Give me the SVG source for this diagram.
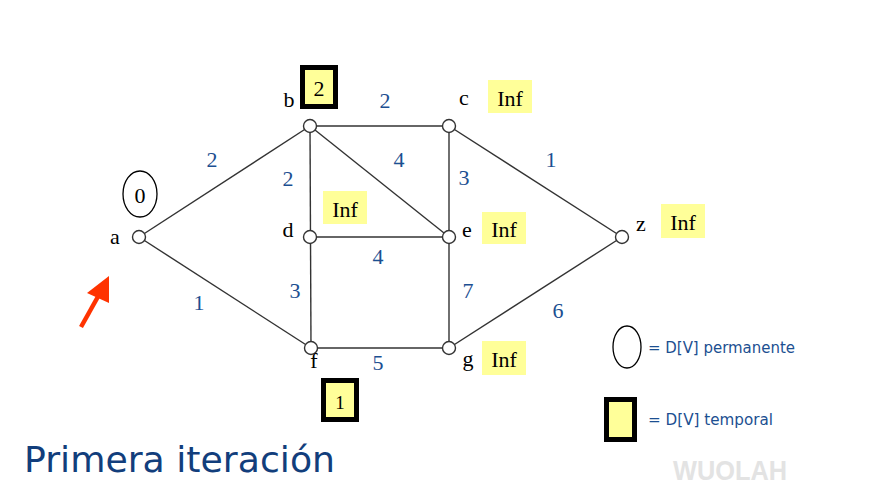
<svg xmlns="http://www.w3.org/2000/svg" width="883" height="503" viewBox="0 0 883 503">
<style>
.edge{stroke:#333;stroke-width:1.4;fill:none}
.node{fill:#fff;stroke:#333;stroke-width:1.4}
.w{font-family:"Liberation Serif","Times New Roman",serif;font-size:22px;fill:#1C4F91;text-anchor:middle}
.lbl{font-family:"Liberation Serif","Times New Roman",serif;font-size:22px;fill:#000;text-anchor:middle}
.inf{fill:#FFFF99}
.tmp{fill:#FFFF99;stroke:#000;stroke-width:5}
.leg{font-family:"Comic Sans MS","DejaVu Sans",sans-serif;font-size:15px;fill:#1C4F91}
</style>
<rect width="883" height="503" fill="#fff"/>
<g id="connectors">
<line class="edge" x1="139" y1="237" x2="310" y2="126"/>
<line class="edge" x1="139" y1="237" x2="311" y2="348"/>
<line class="edge" x1="310" y1="126" x2="449" y2="126"/>
<line class="edge" x1="310" y1="126" x2="311" y2="348"/>
<line class="edge" x1="310" y1="126" x2="449" y2="237"/>
<line class="edge" x1="449" y1="126" x2="449" y2="348"/>
<line class="edge" x1="310" y1="237" x2="449" y2="237"/>
<line class="edge" x1="449" y1="126" x2="622" y2="237"/>
<line class="edge" x1="622" y1="237" x2="449" y2="348"/>
<line class="edge" x1="311" y1="348" x2="449" y2="348"/>
<text class="w" x="212" y="167">2</text>
<text class="w" x="288" y="186">2</text>
<text class="w" x="385" y="108">2</text>
<text class="w" x="399" y="167">4</text>
<text class="w" x="464" y="185">3</text>
<text class="w" x="551" y="167">1</text>
<text class="w" x="378" y="264">4</text>
<text class="w" x="295" y="298">3</text>
<text class="w" x="199" y="309.5">1</text>
<text class="w" x="378" y="369.5">5</text>
<text class="w" x="468" y="298">7</text>
<text class="w" x="558" y="318">6</text>
</g>
<g id="node-a">
<circle class="node" cx="139" cy="237" r="6.5"/>
<text class="lbl" x="115" y="244">a</text>
<ellipse cx="140" cy="194" rx="17" ry="23" fill="#fff" stroke="#000" stroke-width="1.3"/>
<text class="lbl" x="140" y="203">0</text>
</g>
<g id="node-b">
<circle class="node" cx="310" cy="126" r="6.5"/>
<text class="lbl" x="289" y="107">b</text>
<rect class="tmp" x="302.5" y="67.5" width="33" height="39"/>
<text class="lbl" x="319" y="96">2</text>
</g>
<g id="node-c">
<circle class="node" cx="449" cy="126" r="6.5"/>
<text class="lbl" x="464" y="105">c</text>
<rect class="inf" x="488" y="80" width="44" height="33"/>
<text class="lbl" x="510" y="106">Inf</text>
</g>
<g id="node-d">
<circle class="node" cx="310" cy="237" r="6.5"/>
<text class="lbl" x="288" y="237">d</text>
<rect class="inf" x="323" y="191" width="44" height="33"/>
<text class="lbl" x="345" y="217">Inf</text>
</g>
<g id="node-e">
<circle class="node" cx="449" cy="237" r="6.5"/>
<text class="lbl" x="467" y="237">e</text>
<rect class="inf" x="482" y="212" width="44" height="32"/>
<text class="lbl" x="504" y="237">Inf</text>
</g>
<g id="node-z">
<circle class="node" cx="622" cy="237" r="6.5"/>
<text class="lbl" x="641" y="231">z</text>
<rect class="inf" x="661" y="204" width="44" height="34"/>
<text class="lbl" x="683" y="230">Inf</text>
</g>
<g id="node-f">
<circle class="node" cx="311" cy="348" r="6.5"/>
<text class="lbl" x="314" y="368">f</text>
<rect class="tmp" x="323.5" y="380.5" width="33" height="39"/>
<text class="lbl" x="340" y="409" style="font-size:19px">1</text>
</g>
<g id="node-g">
<circle class="node" cx="449" cy="348" r="6.5"/>
<text class="lbl" x="468" y="366">g</text>
<rect class="inf" x="482" y="341" width="44" height="34"/>
<text class="lbl" x="504" y="367">Inf</text>
</g>
<g id="arrow">
<line x1="81" y1="327" x2="100" y2="293" stroke="#FF3300" stroke-width="4.5"/>
<polygon points="109,276 87,293 109,303" fill="#FF3300"/>
</g>
<g id="legend">
<ellipse cx="627" cy="347" rx="14" ry="21" fill="#fff" stroke="#000" stroke-width="1.3"/>
<text class="leg" x="648" y="353" textLength="147" lengthAdjust="spacingAndGlyphs">= D[V] permanente</text>
<rect x="606.5" y="399.5" width="28" height="40" fill="#FFFF99" stroke="#000" stroke-width="5"/>
<text class="leg" x="648" y="425" textLength="125" lengthAdjust="spacingAndGlyphs">= D[V] temporal</text>
</g>
<text x="24" y="472" font-family="'DejaVu Sans',Verdana,sans-serif" font-size="36" fill="#123E7C" textLength="311" lengthAdjust="spacingAndGlyphs">Primera iteración</text>
<text x="673" y="480" font-family="'Liberation Sans',Arial,sans-serif" font-weight="bold" font-size="27" fill="#E3E3E3" textLength="114" lengthAdjust="spacingAndGlyphs">WUOLAH</text>
</svg>
